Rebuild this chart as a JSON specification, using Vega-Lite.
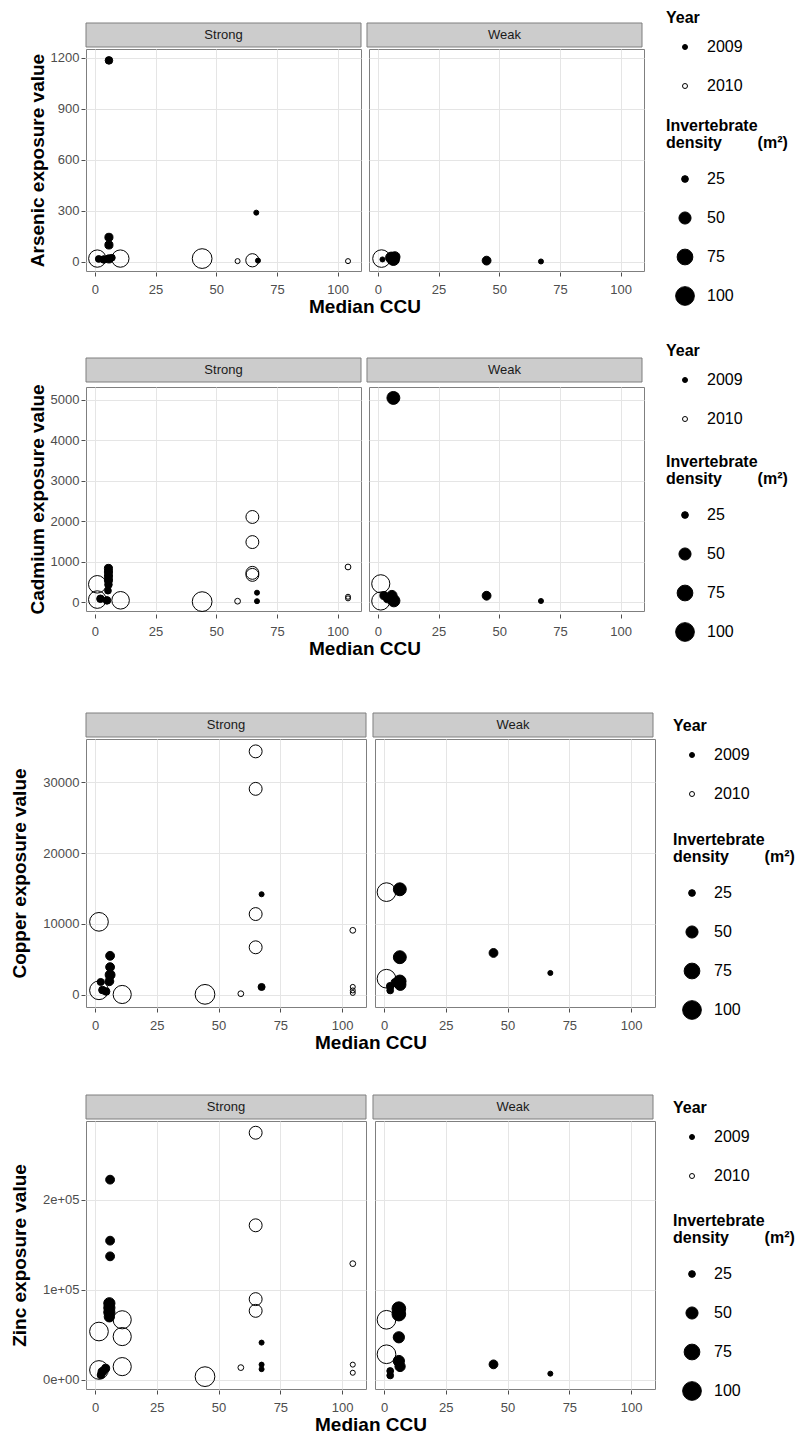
{
  "$schema": "https://vega.github.io/schema/vega-lite/v6.json",
  "padding": {"left": 10, "top": 10, "right": 5, "bottom": 0},
  "config": {
    "font": "Liberation Sans",
    "view": {"stroke": "#7f7f7f"},
    "axis": {"labelFontSize": 13, "labelColor": "#4d4d4d", "tickColor": "#4d4d4d", "tickSize": 4, "domain": false, "gridColor": "#e5e5e5", "gridWidth": 1, "titleFontSize": 19, "titleFontWeight": "bold", "titleColor": "black", "labelPadding": 2, "titlePadding": 3},
    "axisX": {"labelPadding": 7},
    "header": {"titleFontSize": 19, "titleFontWeight": "bold", "titleColor": "black", "titlePadding": -8},
    "legend": {"titleFontSize": 16, "titleFontWeight": "bold", "titleColor": "black", "labelFontSize": 16, "labelColor": "black", "symbolStrokeColor": "black", "symbolStrokeWidth": 1, "titleLineHeight": 17, "titleLimit": 300, "direction": "vertical"}
  },
  "datasets": {
    "d": [
      {"m":"As","s":"Strong","c":5.8,"v":1185,"y":"2009","d":28},
      {"m":"As","s":"Strong","c":66.5,"v":290,"y":"2009","d":20},
      {"m":"As","s":"Strong","c":5.8,"v":145,"y":"2009","d":30},
      {"m":"As","s":"Strong","c":5.8,"v":100,"y":"2009","d":30},
      {"m":"As","s":"Strong","c":1.0,"v":20,"y":"2010","d":88},
      {"m":"As","s":"Strong","c":10.5,"v":20,"y":"2010","d":88},
      {"m":"As","s":"Strong","c":1.6,"v":18,"y":"2009","d":25},
      {"m":"As","s":"Strong","c":3.7,"v":15,"y":"2009","d":28},
      {"m":"As","s":"Strong","c":5.8,"v":18,"y":"2009","d":30},
      {"m":"As","s":"Strong","c":7,"v":25,"y":"2009","d":25},
      {"m":"As","s":"Strong","c":44.2,"v":20,"y":"2010","d":110},
      {"m":"As","s":"Strong","c":58.8,"v":5,"y":"2010","d":20},
      {"m":"As","s":"Strong","c":64.9,"v":10,"y":"2010","d":57},
      {"m":"As","s":"Strong","c":67.2,"v":8,"y":"2009","d":20},
      {"m":"As","s":"Strong","c":104.3,"v":5,"y":"2010","d":20},
      {"m":"As","s":"Weak","c":1.5,"v":20,"y":"2010","d":90},
      {"m":"As","s":"Weak","c":1.9,"v":15,"y":"2009","d":20},
      {"m":"As","s":"Weak","c":5.5,"v":25,"y":"2009","d":45},
      {"m":"As","s":"Weak","c":6.4,"v":15,"y":"2009","d":50},
      {"m":"As","s":"Weak","c":7,"v":30,"y":"2009","d":40},
      {"m":"As","s":"Weak","c":44.8,"v":8,"y":"2009","d":33},
      {"m":"As","s":"Weak","c":67.2,"v":3,"y":"2009","d":20},

      {"m":"Cd","s":"Strong","c":5.6,"v":830,"y":"2009","d":30},
      {"m":"Cd","s":"Strong","c":5.6,"v":740,"y":"2009","d":30},
      {"m":"Cd","s":"Strong","c":5.6,"v":640,"y":"2009","d":30},
      {"m":"Cd","s":"Strong","c":5.6,"v":540,"y":"2009","d":30},
      {"m":"Cd","s":"Strong","c":5.6,"v":430,"y":"2009","d":28},
      {"m":"Cd","s":"Strong","c":5.4,"v":280,"y":"2009","d":25},
      {"m":"Cd","s":"Strong","c":2.3,"v":80,"y":"2009","d":28},
      {"m":"Cd","s":"Strong","c":5,"v":40,"y":"2009","d":28},
      {"m":"Cd","s":"Strong","c":1,"v":437,"y":"2010","d":90},
      {"m":"Cd","s":"Strong","c":1,"v":60,"y":"2010","d":90},
      {"m":"Cd","s":"Strong","c":10.6,"v":42,"y":"2010","d":90},
      {"m":"Cd","s":"Strong","c":44.2,"v":10,"y":"2010","d":110},
      {"m":"Cd","s":"Strong","c":58.8,"v":20,"y":"2010","d":22},
      {"m":"Cd","s":"Strong","c":64.9,"v":2100,"y":"2010","d":55},
      {"m":"Cd","s":"Strong","c":64.9,"v":1480,"y":"2010","d":55},
      {"m":"Cd","s":"Strong","c":64.9,"v":720,"y":"2010","d":55},
      {"m":"Cd","s":"Strong","c":64.9,"v":670,"y":"2010","d":55},
      {"m":"Cd","s":"Strong","c":66.8,"v":230,"y":"2009","d":20},
      {"m":"Cd","s":"Strong","c":66.8,"v":20,"y":"2009","d":20},
      {"m":"Cd","s":"Strong","c":104.3,"v":865,"y":"2010","d":22},
      {"m":"Cd","s":"Strong","c":104.3,"v":130,"y":"2010","d":20},
      {"m":"Cd","s":"Strong","c":104.3,"v":90,"y":"2010","d":20},
      {"m":"Cd","s":"Weak","c":6.4,"v":5040,"y":"2009","d":55},
      {"m":"Cd","s":"Weak","c":1.2,"v":450,"y":"2010","d":95},
      {"m":"Cd","s":"Weak","c":1.2,"v":25,"y":"2010","d":95},
      {"m":"Cd","s":"Weak","c":2.5,"v":160,"y":"2009","d":30},
      {"m":"Cd","s":"Weak","c":5.8,"v":160,"y":"2009","d":40},
      {"m":"Cd","s":"Weak","c":6.6,"v":30,"y":"2009","d":50},
      {"m":"Cd","s":"Weak","c":4,"v":80,"y":"2009","d":30},
      {"m":"Cd","s":"Weak","c":44.8,"v":155,"y":"2009","d":33},
      {"m":"Cd","s":"Weak","c":67.2,"v":25,"y":"2009","d":20},

      {"m":"Cu","s":"Strong","c":65,"v":34400,"y":"2010","d":55},
      {"m":"Cu","s":"Strong","c":65,"v":29100,"y":"2010","d":55},
      {"m":"Cu","s":"Strong","c":65,"v":11400,"y":"2010","d":55},
      {"m":"Cu","s":"Strong","c":65,"v":6700,"y":"2010","d":55},
      {"m":"Cu","s":"Strong","c":67.4,"v":14200,"y":"2009","d":20},
      {"m":"Cu","s":"Strong","c":67.4,"v":1090,"y":"2009","d":26},
      {"m":"Cu","s":"Strong","c":1.6,"v":10300,"y":"2010","d":100},
      {"m":"Cu","s":"Strong","c":1.6,"v":620,"y":"2010","d":100},
      {"m":"Cu","s":"Strong","c":11,"v":30,"y":"2010","d":95},
      {"m":"Cu","s":"Strong","c":6.1,"v":5500,"y":"2009","d":33},
      {"m":"Cu","s":"Strong","c":6.1,"v":3900,"y":"2009","d":33},
      {"m":"Cu","s":"Strong","c":6.1,"v":2800,"y":"2009","d":38},
      {"m":"Cu","s":"Strong","c":5.8,"v":1900,"y":"2009","d":33},
      {"m":"Cu","s":"Strong","c":2.3,"v":1800,"y":"2009","d":26},
      {"m":"Cu","s":"Strong","c":3,"v":660,"y":"2009","d":28},
      {"m":"Cu","s":"Strong","c":4.5,"v":450,"y":"2009","d":28},
      {"m":"Cu","s":"Strong","c":44.5,"v":50,"y":"2010","d":110},
      {"m":"Cu","s":"Strong","c":59,"v":140,"y":"2010","d":22},
      {"m":"Cu","s":"Strong","c":104.3,"v":9100,"y":"2010","d":22},
      {"m":"Cu","s":"Strong","c":104.3,"v":1100,"y":"2010","d":20},
      {"m":"Cu","s":"Strong","c":104.3,"v":600,"y":"2010","d":20},
      {"m":"Cu","s":"Strong","c":104.3,"v":250,"y":"2010","d":20},
      {"m":"Cu","s":"Weak","c":1.0,"v":14500,"y":"2010","d":100},
      {"m":"Cu","s":"Weak","c":6.4,"v":14900,"y":"2009","d":55},
      {"m":"Cu","s":"Weak","c":6.4,"v":5300,"y":"2009","d":55},
      {"m":"Cu","s":"Weak","c":1.0,"v":2260,"y":"2010","d":100},
      {"m":"Cu","s":"Weak","c":6.4,"v":1900,"y":"2009","d":52},
      {"m":"Cu","s":"Weak","c":6.6,"v":1400,"y":"2009","d":45},
      {"m":"Cu","s":"Weak","c":4.5,"v":1700,"y":"2009","d":30},
      {"m":"Cu","s":"Weak","c":2.5,"v":1200,"y":"2009","d":28},
      {"m":"Cu","s":"Weak","c":2.5,"v":600,"y":"2009","d":25},
      {"m":"Cu","s":"Weak","c":44.3,"v":5900,"y":"2009","d":33},
      {"m":"Cu","s":"Weak","c":67.3,"v":3070,"y":"2009","d":20},

      {"m":"Zn","s":"Strong","c":65,"v":274000,"y":"2010","d":55},
      {"m":"Zn","s":"Strong","c":6.1,"v":222000,"y":"2009","d":33},
      {"m":"Zn","s":"Strong","c":65,"v":171400,"y":"2010","d":55},
      {"m":"Zn","s":"Strong","c":6.1,"v":154400,"y":"2009","d":33},
      {"m":"Zn","s":"Strong","c":6.1,"v":137000,"y":"2009","d":33},
      {"m":"Zn","s":"Strong","c":104.3,"v":128900,"y":"2010","d":22},
      {"m":"Zn","s":"Strong","c":65,"v":89600,"y":"2010","d":55},
      {"m":"Zn","s":"Strong","c":65,"v":76600,"y":"2010","d":55},
      {"m":"Zn","s":"Strong","c":5.8,"v":85000,"y":"2009","d":45},
      {"m":"Zn","s":"Strong","c":5.8,"v":80000,"y":"2009","d":45},
      {"m":"Zn","s":"Strong","c":5.8,"v":75000,"y":"2009","d":45},
      {"m":"Zn","s":"Strong","c":5.8,"v":70000,"y":"2009","d":40},
      {"m":"Zn","s":"Strong","c":11,"v":66700,"y":"2010","d":95},
      {"m":"Zn","s":"Strong","c":1.6,"v":53700,"y":"2010","d":100},
      {"m":"Zn","s":"Strong","c":11,"v":48100,"y":"2010","d":95},
      {"m":"Zn","s":"Strong","c":67.4,"v":41400,"y":"2009","d":20},
      {"m":"Zn","s":"Strong","c":11,"v":14800,"y":"2010","d":95},
      {"m":"Zn","s":"Strong","c":1.6,"v":11100,"y":"2010","d":100},
      {"m":"Zn","s":"Strong","c":3,"v":9200,"y":"2009","d":33},
      {"m":"Zn","s":"Strong","c":4.3,"v":12900,"y":"2009","d":30},
      {"m":"Zn","s":"Strong","c":2.4,"v":5500,"y":"2009","d":28},
      {"m":"Zn","s":"Strong","c":59,"v":13700,"y":"2010","d":22},
      {"m":"Zn","s":"Strong","c":67.4,"v":17000,"y":"2009","d":20},
      {"m":"Zn","s":"Strong","c":67.4,"v":12000,"y":"2009","d":20},
      {"m":"Zn","s":"Strong","c":44.5,"v":3700,"y":"2010","d":110},
      {"m":"Zn","s":"Strong","c":104.3,"v":17000,"y":"2010","d":20},
      {"m":"Zn","s":"Strong","c":104.3,"v":8000,"y":"2010","d":20},
      {"m":"Zn","s":"Weak","c":1.0,"v":66700,"y":"2010","d":100},
      {"m":"Zn","s":"Weak","c":6,"v":79000,"y":"2009","d":60},
      {"m":"Zn","s":"Weak","c":6,"v":73000,"y":"2009","d":60},
      {"m":"Zn","s":"Weak","c":6,"v":47300,"y":"2009","d":45},
      {"m":"Zn","s":"Weak","c":1.0,"v":28500,"y":"2010","d":100},
      {"m":"Zn","s":"Weak","c":6,"v":21000,"y":"2009","d":45},
      {"m":"Zn","s":"Weak","c":6.5,"v":15000,"y":"2009","d":40},
      {"m":"Zn","s":"Weak","c":2.5,"v":10000,"y":"2009","d":25},
      {"m":"Zn","s":"Weak","c":2.5,"v":5000,"y":"2009","d":25},
      {"m":"Zn","s":"Weak","c":44.3,"v":17300,"y":"2009","d":33},
      {"m":"Zn","s":"Weak","c":67.3,"v":7000,"y":"2009","d":20}
    ]
  },
  "resolve": {"scale": {"fill": "independent", "size": "independent"}, "legend": {"fill": "independent", "size": "independent"}},
  "spacing": 53,
  "vconcat": [
    {
      "spacing": 26,
      "resolve": {"scale": {"fill": "independent", "size": "independent"}, "legend": {"fill": "independent", "size": "independent"}},
      "vconcat": [
        {
          "spacing": 0,
          "vconcat": [
            {
              "width": 556, "height": 24, "view": {"stroke": null},
              "data": {"values": [{"t": "Strong"}, {"t": "Weak"}]},
              "encoding": {"x": {"field": "t", "type": "nominal", "scale": {"paddingInner": 0.02135, "paddingOuter": 0}, "axis": null}},
              "layer": [
                {"mark": {"type": "rect", "fill": "#cccccc", "stroke": "#7f7f7f", "strokeWidth": 1}},
                {"mark": {"type": "text", "fontSize": 13, "color": "#1a1a1a"}, "encoding": {"text": {"field": "t"}}}
              ]
            },
            {
              "data": {"name": "d"},
              "transform": [{"filter": "datum.m == 'As'"}],
              "facet": {"column": {"field": "s", "type": "nominal", "title": "Median CCU", "header": {"labels": false, "titleOrient": "bottom"}}},
              "spacing": 6,
              "spec": {
                "width": 275, "height": 222,
                "mark": {"type": "point", "shape": "circle", "filled": true, "stroke": "black", "strokeWidth": 1, "opacity": 1},
                "encoding": {
                  "x": {"field": "c", "type": "quantitative", "scale": {"domain": [-3.65, 109.65], "nice": false, "zero": false}, "axis": {"values": [0, 25, 50, 75, 100], "title": null}},
                  "y": {"field": "v", "type": "quantitative", "scale": {"domain": [-53, 1252], "nice": false, "zero": false}, "axis": {"values": [0, 300, 600, 900, 1200], "format": "d", "title": "Arsenic exposure value"}},
                  "fill": {"field": "y", "type": "nominal", "scale": {"domain": ["2009", "2010"], "range": ["black", "transparent"]}, "legend": {"title": "Year", "orient": "none", "legendX": 580, "legendY": -13, "symbolSize": 25, "symbolType": "circle", "symbolOffset": 11, "labelOffset": 14, "titlePadding": 13, "rowPadding": 23}},
                  "size": {"field": "d", "type": "quantitative", "scale": {"domain": [15, 120], "range": [5, 430], "zero": false}, "legend": {"title": ["Invertebrate", "density\u00a0\u00a0\u00a0\u00a0\u00a0\u00a0\u00a0\u00a0(m²)"], "values": [25, 50, 75, 100], "orient": "none", "legendX": 580, "legendY": 95, "symbolFillColor": "black", "symbolType": "circle", "symbolOffset": 9, "labelOffset": 12, "titlePadding": 16, "rowPadding": 15, "clipHeight": 24}}
                }
              }
            }
          ]
        },
        {
          "spacing": 0,
          "vconcat": [
            {
              "width": 556, "height": 24, "view": {"stroke": null},
              "data": {"values": [{"t": "Strong"}, {"t": "Weak"}]},
              "encoding": {"x": {"field": "t", "type": "nominal", "scale": {"paddingInner": 0.02135, "paddingOuter": 0}, "axis": null}},
              "layer": [
                {"mark": {"type": "rect", "fill": "#cccccc", "stroke": "#7f7f7f", "strokeWidth": 1}},
                {"mark": {"type": "text", "fontSize": 13, "color": "#1a1a1a"}, "encoding": {"text": {"field": "t"}}}
              ]
            },
            {
              "data": {"name": "d"},
              "transform": [{"filter": "datum.m == 'Cd'"}],
              "facet": {"column": {"field": "s", "type": "nominal", "title": "Median CCU", "header": {"labels": false, "titleOrient": "bottom"}}},
              "spacing": 6,
              "spec": {
                "width": 275, "height": 224,
                "mark": {"type": "point", "shape": "circle", "filled": true, "stroke": "black", "strokeWidth": 1, "opacity": 1},
                "encoding": {
                  "x": {"field": "c", "type": "quantitative", "scale": {"domain": [-3.65, 109.65], "nice": false, "zero": false}, "axis": {"values": [0, 25, 50, 75, 100], "title": null}},
                  "y": {"field": "v", "type": "quantitative", "scale": {"domain": [-222, 5310], "nice": false, "zero": false}, "axis": {"values": [0, 1000, 2000, 3000, 4000, 5000], "format": "d", "title": "Cadmium exposure value"}},
                  "fill": {"field": "y", "type": "nominal", "scale": {"domain": ["2009", "2010"], "range": ["black", "transparent"]}, "legend": {"title": "Year", "orient": "none", "legendX": 580, "legendY": -15, "symbolSize": 25, "symbolType": "circle", "symbolOffset": 11, "labelOffset": 14, "titlePadding": 13, "rowPadding": 23}},
                  "size": {"field": "d", "type": "quantitative", "scale": {"domain": [15, 120], "range": [5, 430], "zero": false}, "legend": {"title": ["Invertebrate", "density\u00a0\u00a0\u00a0\u00a0\u00a0\u00a0\u00a0\u00a0(m²)"], "values": [25, 50, 75, 100], "orient": "none", "legendX": 580, "legendY": 96, "symbolFillColor": "black", "symbolType": "circle", "symbolOffset": 9, "labelOffset": 12, "titlePadding": 16, "rowPadding": 15, "clipHeight": 24}}
                }
              }
            }
          ]
        }
      ]
    },
    {
      "spacing": 41,
      "resolve": {"scale": {"fill": "independent", "size": "independent"}, "legend": {"fill": "independent", "size": "independent"}},
      "vconcat": [
        {
          "spacing": 0,
          "vconcat": [
            {
              "width": 567, "height": 24, "view": {"stroke": null},
              "data": {"values": [{"t": "Strong"}, {"t": "Weak"}]},
              "encoding": {"x": {"field": "t", "type": "nominal", "scale": {"paddingInner": 0.02439, "paddingOuter": 0}, "axis": null}},
              "layer": [
                {"mark": {"type": "rect", "fill": "#cccccc", "stroke": "#7f7f7f", "strokeWidth": 1}},
                {"mark": {"type": "text", "fontSize": 13, "color": "#1a1a1a"}, "encoding": {"text": {"field": "t"}}}
              ]
            },
            {
              "data": {"name": "d"},
              "transform": [{"filter": "datum.m == 'Cu'"}],
              "facet": {"column": {"field": "s", "type": "nominal", "title": "Median CCU", "header": {"labels": false, "titleOrient": "bottom"}}},
              "spacing": 7,
              "spec": {
                "width": 280, "height": 268,
                "mark": {"type": "point", "shape": "circle", "filled": true, "stroke": "black", "strokeWidth": 1, "opacity": 1},
                "encoding": {
                  "x": {"field": "c", "type": "quantitative", "scale": {"domain": [-3.65, 109.65], "nice": false, "zero": false}, "axis": {"values": [0, 25, 50, 75, 100], "title": null}},
                  "y": {"field": "v", "type": "quantitative", "scale": {"domain": [-1740, 36150], "nice": false, "zero": false}, "axis": {"values": [0, 10000, 20000, 30000], "format": "d", "title": "Copper exposure value", "titlePadding": 13}},
                  "fill": {"field": "y", "type": "nominal", "scale": {"domain": ["2009", "2010"], "range": ["black", "transparent"]}, "legend": {"title": "Year", "orient": "none", "legendX": 587, "legendY": 5, "symbolSize": 25, "symbolType": "circle", "symbolOffset": 11, "labelOffset": 14, "titlePadding": 13, "rowPadding": 23}},
                  "size": {"field": "d", "type": "quantitative", "scale": {"domain": [15, 120], "range": [5, 430], "zero": false}, "legend": {"title": ["Invertebrate", "density\u00a0\u00a0\u00a0\u00a0\u00a0\u00a0\u00a0\u00a0(m²)"], "values": [25, 50, 75, 100], "orient": "none", "legendX": 587, "legendY": 119, "symbolFillColor": "black", "symbolType": "circle", "symbolOffset": 9, "labelOffset": 12, "titlePadding": 16, "rowPadding": 15, "clipHeight": 24}}
                }
              }
            }
          ]
        },
        {
          "spacing": 0,
          "vconcat": [
            {
              "width": 567, "height": 24, "view": {"stroke": null},
              "data": {"values": [{"t": "Strong"}, {"t": "Weak"}]},
              "encoding": {"x": {"field": "t", "type": "nominal", "scale": {"paddingInner": 0.02439, "paddingOuter": 0}, "axis": null}},
              "layer": [
                {"mark": {"type": "rect", "fill": "#cccccc", "stroke": "#7f7f7f", "strokeWidth": 1}},
                {"mark": {"type": "text", "fontSize": 13, "color": "#1a1a1a"}, "encoding": {"text": {"field": "t"}}}
              ]
            },
            {
              "data": {"name": "d"},
              "transform": [{"filter": "datum.m == 'Zn'"}],
              "facet": {"column": {"field": "s", "type": "nominal", "title": "Median CCU", "header": {"labels": false, "titleOrient": "bottom"}}},
              "spacing": 7,
              "spec": {
                "width": 280, "height": 268,
                "mark": {"type": "point", "shape": "circle", "filled": true, "stroke": "black", "strokeWidth": 1, "opacity": 1},
                "encoding": {
                  "x": {"field": "c", "type": "quantitative", "scale": {"domain": [-3.65, 109.65], "nice": false, "zero": false}, "axis": {"values": [0, 25, 50, 75, 100], "title": null}},
                  "y": {"field": "v", "type": "quantitative", "scale": {"domain": [-10000, 287000], "nice": false, "zero": false}, "axis": {"values": [0, 100000, 200000], "labelExpr": "datum.value == 0 ? '0e+00' : datum.value == 100000 ? '1e+05' : '2e+05'", "title": "Zinc exposure value", "titlePadding": 13}},
                  "fill": {"field": "y", "type": "nominal", "scale": {"domain": ["2009", "2010"], "range": ["black", "transparent"]}, "legend": {"title": "Year", "orient": "none", "legendX": 587, "legendY": 5, "symbolSize": 25, "symbolType": "circle", "symbolOffset": 11, "labelOffset": 14, "titlePadding": 13, "rowPadding": 23}},
                  "size": {"field": "d", "type": "quantitative", "scale": {"domain": [15, 120], "range": [5, 430], "zero": false}, "legend": {"title": ["Invertebrate", "density\u00a0\u00a0\u00a0\u00a0\u00a0\u00a0\u00a0\u00a0(m²)"], "values": [25, 50, 75, 100], "orient": "none", "legendX": 587, "legendY": 118, "symbolFillColor": "black", "symbolType": "circle", "symbolOffset": 9, "labelOffset": 12, "titlePadding": 16, "rowPadding": 15, "clipHeight": 24}}
                }
              }
            }
          ]
        }
      ]
    }
  ]
}
